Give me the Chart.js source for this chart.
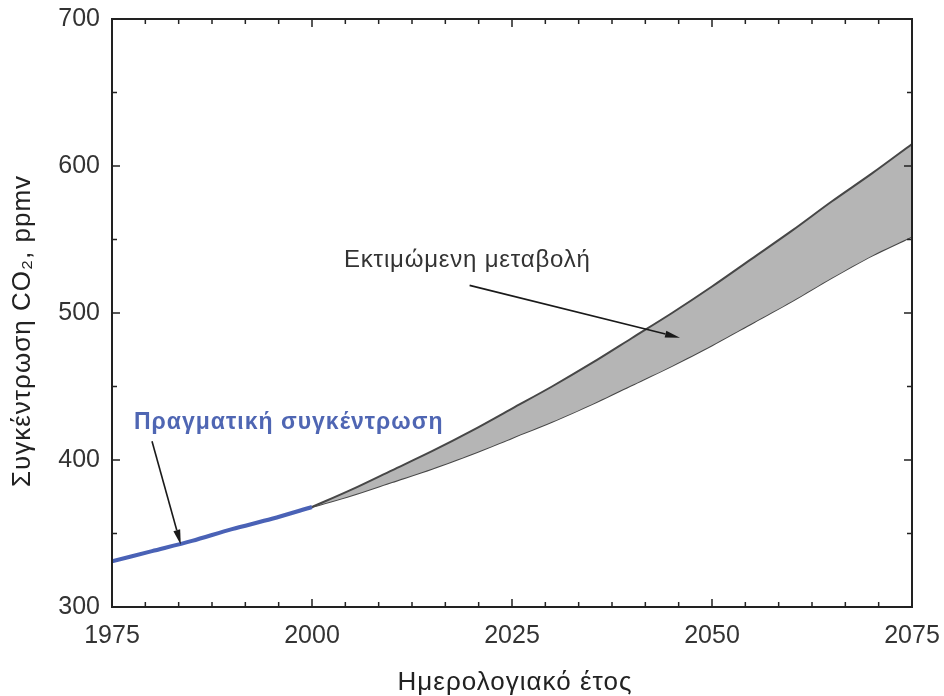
<!DOCTYPE html>
<html>
<head>
<meta charset="utf-8">
<script src="https://cdn.jsdelivr.net/npm/chart.js@4"></script>
<style>
  html, body { margin: 0; padding: 0; background: #ffffff; }
  #wrap { width: 944px; height: 696px; position: relative; }
</style>
</head>
<body>
<div id="wrap"><canvas id="chart"></canvas></div>
<script>
// Measured CO2 concentration (ppmv)
const observedYears  = [1975, 1980, 1985, 1990, 1995, 2000];
const observedValues = [331, 338, 345, 353, 360, 368];

// Projected range (ppmv): upper and lower bounds of the estimate
const projectionYears = [2000, 2005, 2010, 2015, 2020, 2025, 2030, 2035, 2040, 2045, 2050, 2055, 2060, 2065, 2070, 2075];
const upperValues     = [368, 380, 393, 406, 420, 435, 450, 466, 483, 500, 518, 537, 556, 576, 595, 615];
const lowerValues     = [368, 376, 385, 394, 404, 415, 426, 438, 451, 464, 478, 493, 508, 524, 539, 552];

// Axis ticks
const xTickLabels = [1975, 2000, 2025, 2050, 2075];
const yTickLabels = [300, 400, 500, 600, 700];

// Text
const xTitle = 'Ημερολογιακό έτος';
const yTitle = 'Συγκέντρωση CO₂, ppmv';
const observedLabel = 'Πραγματική συγκέντρωση';
const projectedLabel = 'Εκτιμώμενη μεταβολή';

const FONT = "'Liberation Sans', Arial, sans-serif";
const toPoints = (xs, ys) => xs.map((x, i) => ({ x: x, y: ys[i] }));

// Frame, inward ticks, axis titles and callouts with arrows
const framePlugin = {
  id: 'frameAndCallouts',
  afterDatasetsDraw(chart) {
    const { ctx, chartArea: a, scales: { x, y } } = chart;
    ctx.save();
    ctx.strokeStyle = '#222';
    ctx.lineWidth = 2;
    ctx.strokeRect(a.left, a.top, a.right - a.left, a.bottom - a.top);

    ctx.lineWidth = 1.5;
    const xMin = xTickLabels[0], xMax = xTickLabels[xTickLabels.length - 1];
    const xStep = (xTickLabels[1] - xTickLabels[0]) / 6;
    for (let i = 0; xMin + i * xStep <= xMax + 1e-6; i++) {
      const px = x.getPixelForValue(xMin + i * xStep);
      const len = i % 6 === 0 ? 8 : 5;
      ctx.beginPath();
      ctx.moveTo(px, a.bottom); ctx.lineTo(px, a.bottom - len);
      ctx.moveTo(px, a.top); ctx.lineTo(px, a.top + len);
      ctx.stroke();
    }
    const yMin = yTickLabels[0], yMax = yTickLabels[yTickLabels.length - 1];
    const yStep = (yTickLabels[1] - yTickLabels[0]) / 2;
    for (let i = 0; yMin + i * yStep <= yMax + 1e-6; i++) {
      const py = y.getPixelForValue(yMin + i * yStep);
      const len = i % 2 === 0 ? 8 : 5;
      ctx.beginPath();
      ctx.moveTo(a.left, py); ctx.lineTo(a.left + len, py);
      ctx.moveTo(a.right, py); ctx.lineTo(a.right - len, py);
      ctx.stroke();
    }

    const arrow = (x0, y0, x1, y1) => {
      const p0 = [x.getPixelForValue(x0), y.getPixelForValue(y0)];
      const p1 = [x.getPixelForValue(x1), y.getPixelForValue(y1)];
      const ang = Math.atan2(p1[1] - p0[1], p1[0] - p0[0]);
      const hl = 15, hw = 3.5;
      ctx.strokeStyle = '#1a1a1a';
      ctx.fillStyle = '#1a1a1a';
      ctx.lineWidth = 1.6;
      ctx.beginPath();
      ctx.moveTo(p0[0], p0[1]);
      ctx.lineTo(p1[0] - hl * Math.cos(ang), p1[1] - hl * Math.sin(ang));
      ctx.stroke();
      ctx.beginPath();
      ctx.moveTo(p1[0], p1[1]);
      ctx.lineTo(p1[0] - hl * Math.cos(ang) + hw * Math.sin(ang), p1[1] - hl * Math.sin(ang) - hw * Math.cos(ang));
      ctx.lineTo(p1[0] - hl * Math.cos(ang) - hw * Math.sin(ang), p1[1] - hl * Math.sin(ang) + hw * Math.cos(ang));
      ctx.closePath();
      ctx.fill();
    };

    ctx.textAlign = 'left';
    ctx.textBaseline = 'middle';
    ctx.fillStyle = '#4f66b3';
    ctx.font = 'bold 23px ' + FONT;
    ctx.letterSpacing = '1px';
    ctx.fillText(observedLabel, x.getPixelForValue(1977.75), y.getPixelForValue(425.5));
    arrow(1980.0, 412.8, 1983.6, 342.4);

    ctx.fillStyle = '#333';
    ctx.font = '24px ' + FONT;
    ctx.letterSpacing = '0.8px';
    ctx.fillText(projectedLabel, x.getPixelForValue(2004.0), y.getPixelForValue(535.5));
    ctx.letterSpacing = '0px';
    arrow(2019.7, 518.8, 2046.0, 483.2);

    // Axis titles
    ctx.fillStyle = '#222';
    ctx.font = '26px ' + FONT;
    ctx.letterSpacing = '1px';
    ctx.textAlign = 'center';
    ctx.textBaseline = 'alphabetic';
    ctx.fillText(xTitle, (a.left + a.right) / 2 + 3, 690);

    ctx.translate(30, 331);
    ctx.rotate(-Math.PI / 2);
    ctx.fillText(yTitle, 0, 0);
    ctx.restore();
  }
};

new Chart(document.getElementById('chart'), {
  type: 'line',
  data: {
    datasets: [
      {
        label: 'upper',
        data: toPoints(projectionYears, upperValues),
        borderColor: '#474747',
        borderWidth: 2,
        backgroundColor: '#b5b5b5',
        fill: '+1',
        pointRadius: 0,
        tension: 0.3
      },
      {
        label: 'lower',
        data: toPoints(projectionYears, lowerValues),
        borderColor: '#474747',
        borderWidth: 2,
        fill: false,
        pointRadius: 0,
        tension: 0.3
      },
      {
        label: observedLabel,
        data: toPoints(observedYears, observedValues),
        borderColor: '#4a62b6',
        borderWidth: 4,
        fill: false,
        pointRadius: 0,
        tension: 0.3
      }
    ]
  },
  options: {
    responsive: true,
    maintainAspectRatio: false,
    animation: false,
    layout: { autoPadding: false, padding: { top: 19, right: 32, left: 0, bottom: 0 } },
    plugins: { legend: { display: false }, tooltip: { enabled: false } },
    scales: {
      x: {
        type: 'linear',
        min: xTickLabels[0],
        max: xTickLabels[xTickLabels.length - 1],
        afterBuildTicks(scale) { scale.ticks = xTickLabels.map(v => ({ value: v })); },
        afterFit(scale) { scale.height = 89; scale.paddingLeft = 0; scale.paddingRight = 0; },
        grid: { display: false, drawTicks: false },
        border: { display: false },
        ticks: { padding: 14, color: '#333', font: { family: FONT, size: 25 }, maxRotation: 0, callback: v => String(v) },
        title: { display: false }
      },
      y: {
        type: 'linear',
        min: yTickLabels[0],
        max: yTickLabels[yTickLabels.length - 1],
        afterBuildTicks(scale) { scale.ticks = yTickLabels.map(v => ({ value: v })); },
        afterFit(scale) { scale.width = 112; scale.paddingTop = 0; scale.paddingBottom = 0; },
        grid: { display: false, drawTicks: false },
        border: { display: false },
        ticks: { padding: 12, color: '#333', font: { family: FONT, size: 25 }, callback: v => String(v) },
        title: { display: false }
      }
    }
  },
  plugins: [framePlugin]
});
</script>
</body>
</html>
